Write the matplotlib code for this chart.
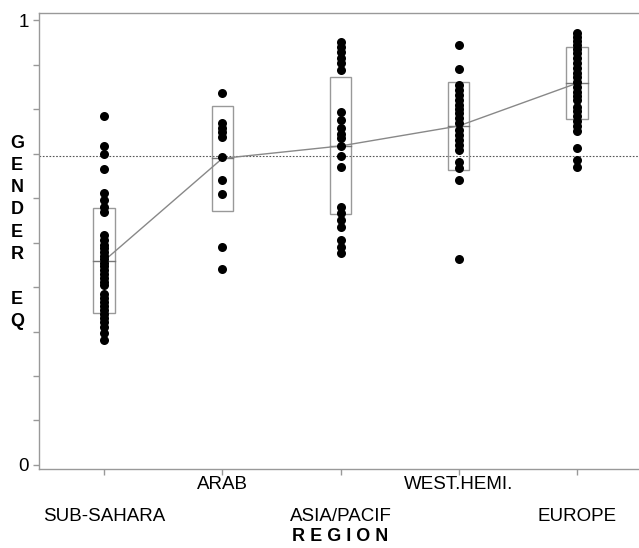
import numpy as np
import matplotlib.pyplot as plt

plt.rcParams['font.family'] = ['Liberation Sans', 'DejaVu Sans']

regions = ['SUB-SAHARA', 'ARAB', 'ASIA/PACIF', 'WEST.HEMI.', 'EUROPE']

# gender equality score per country, grouped by region
sub_sahara = [0.784, 0.718, 0.700, 0.665, 0.611, 0.596, 0.580, 0.568,
              0.517, 0.505, 0.495, 0.487, 0.478, 0.470, 0.462, 0.455,
              0.447, 0.438, 0.430, 0.420, 0.412, 0.404,
              0.385, 0.375, 0.366, 0.357, 0.348, 0.340, 0.330, 0.321,
              0.311, 0.297, 0.281]
arab = [0.835, 0.769, 0.758, 0.748, 0.738, 0.693, 0.640, 0.609, 0.491, 0.440]
asia_pacif = [0.951, 0.940, 0.929, 0.914, 0.903, 0.888,
              0.794, 0.775, 0.757, 0.745, 0.734, 0.718, 0.694, 0.670,
              0.580, 0.566, 0.551, 0.536, 0.506, 0.491, 0.476]
west_hemi = [0.945, 0.889, 0.854, 0.843, 0.832, 0.821, 0.810, 0.800,
             0.790, 0.780, 0.769, 0.753, 0.742, 0.731, 0.720, 0.708,
             0.682, 0.667, 0.640, 0.464]
europe = [0.970, 0.962, 0.953, 0.944, 0.935, 0.926, 0.915, 0.904,
          0.893, 0.882, 0.871, 0.860, 0.850, 0.839, 0.829, 0.820,
          0.805, 0.795, 0.784, 0.773, 0.762, 0.750, 0.712, 0.685, 0.670]
groups = [sub_sahara, arab, asia_pacif, west_hemi, europe]

# mean +/- one sd for each region
means = [0.459, 0.689, 0.717, 0.762, 0.858]
sds = [0.118, 0.118, 0.154, 0.098, 0.081]

overall_mean = 0.695

fig = plt.figure(figsize=(6.39, 5.48), dpi=100)
ax = fig.add_axes([0.0615, 0.1436, 0.948, 0.832])

grey = '#999999'
pos = np.arange(len(regions))

ax.axhline(overall_mean, color='#555555', lw=0.8, ls=(0, (1.5, 1.5)), zorder=1)

for i, vals in enumerate(groups):
    lo = means[i] - sds[i]
    ax.add_patch(plt.Rectangle((i - 0.09, lo), 0.18, 2 * sds[i], fill=False,
                               edgecolor=grey, lw=1.0, zorder=2))
    ax.plot([i - 0.09, i + 0.09], [means[i], means[i]], color='#777777', lw=1.0, zorder=2)
    ax.plot(np.full(len(vals), i), vals, 'o', color='black', ms=6.5, mew=0, zorder=4)

ax.plot(pos, means, color='#888888', lw=1.0, zorder=3)

ax.set_xlim(-0.548, 4.576)
ax.set_ylim(-0.0097, 1.015)

for s in ax.spines.values():
    s.set_color(grey)
    s.set_linewidth(1.0)
ax.spines['right'].set_visible(False)

ax.set_xticks(pos)
ax.set_xticklabels([])
ax.set_yticks(np.arange(0, 1.01, 0.1))
ax.set_yticklabels(['0'] + [''] * 9 + ['1'], fontsize=13.5)
ax.tick_params(axis='both', colors=grey, length=4, width=1.0, labelcolor='black')

# alternate the region names on two rows
tr = ax.get_xaxis_transform()
for i, name in enumerate(regions):
    y = -0.1046 if i % 2 == 0 else -0.0344
    ax.text(i, y, name, transform=tr, ha='center', va='center', fontsize=13.5)
ax.text(2, -0.148, 'R E G I O N', transform=tr, ha='center', va='center',
        fontsize=13, fontweight='bold')

# stacked vertical axis label
letters = ['G', 'E', 'N', 'D', 'E', 'R', 'E', 'Q']
rows = [0, 1, 2, 3, 4, 5, 7, 8]
for ch, r in zip(letters, rows):
    fig.text(17 / 639, 1 - (143 + 22.3 * r) / 548, ch, ha='center', va='center',
             fontsize=13, fontweight='bold')

fig.savefig('out.png', dpi=100)
